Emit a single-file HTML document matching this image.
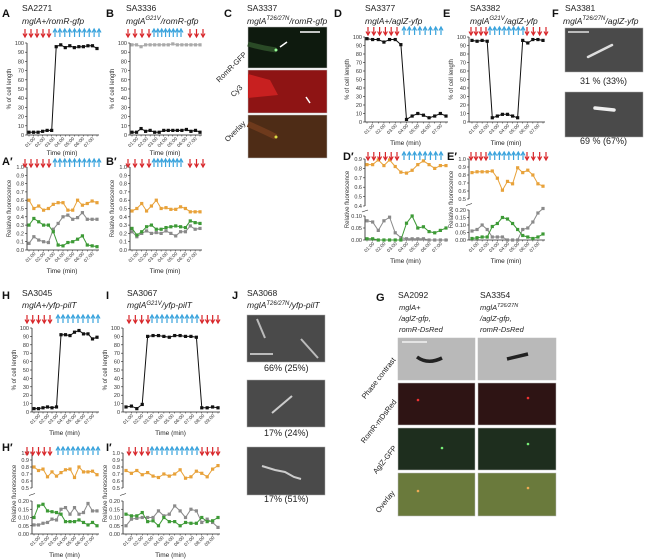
<!DOCTYPE html>
<html><head><meta charset="utf-8"><style>
html,body{margin:0;padding:0;background:#fff;}
svg{display:block;font-family:"Liberation Sans",sans-serif;}
</style></head><body>
<svg id="fig" width="648" height="560" viewBox="0 0 648 560" xmlns="http://www.w3.org/2000/svg">
<g id="static">
<g font-size="11" font-weight="bold" fill="#111">
<text x="2" y="17">A</text>
<text x="106" y="17">B</text>
<text x="224" y="17">C</text>
<text x="334" y="17">D</text>
<text x="443" y="17">E</text>
<text x="552" y="17">F</text>
<text x="2" y="165">A′</text>
<text x="106" y="165">B′</text>
<text x="343" y="160">D′</text>
<text x="447" y="160">E′</text>
<text x="2" y="299">H</text>
<text x="106" y="299">I</text>
<text x="232" y="299">J</text>
<text x="376" y="301">G</text>
<text x="2" y="451">H′</text>
<text x="106" y="451">I′</text>
</g>
<g font-size="8.5" fill="#222">
<text x="22" y="11">SA2271</text>
<text x="22" y="24" font-style="italic">mglA+/romR-gfp</text>
<text x="126" y="11">SA3336</text>
<text x="126" y="24" font-style="italic">mglA<tspan font-size="6" dy="-4">G21V</tspan><tspan dy="4">/romR-gfp</tspan></text>
<text x="247" y="11">SA3337</text>
<text x="247" y="24" font-style="italic">mglA<tspan font-size="6" dy="-4">T26/27N</tspan><tspan dy="4">/romR-gfp</tspan></text>
<text x="365" y="11">SA3377</text>
<text x="365" y="24" font-style="italic">mglA+/aglZ-yfp</text>
<text x="470" y="11">SA3382</text>
<text x="470" y="24" font-style="italic">mglA<tspan font-size="6" dy="-4">G21V</tspan><tspan dy="4">/aglZ-yfp</tspan></text>
<text x="565" y="11">SA3381</text>
<text x="563" y="24" font-style="italic">mglA<tspan font-size="6" dy="-4">T26/27N</tspan><tspan dy="4">/aglZ-yfp</tspan></text>
<text x="22" y="296">SA3045</text>
<text x="22" y="308" font-style="italic">mglA+/yfp-pilT</text>
<text x="127" y="296">SA3067</text>
<text x="127" y="308" font-style="italic">mglA<tspan font-size="6" dy="-3">G21V</tspan><tspan dy="3">/yfp-pilT</tspan></text>
<text x="247" y="296">SA3068</text>
<text x="247" y="308" font-style="italic">mglA<tspan font-size="6" dy="-3">T26/27N</tspan><tspan dy="3">/yfp-pilT</tspan></text>
<text x="398" y="298">SA2092</text>
<text x="480" y="298">SA3354</text>
</g>
<g font-size="7.5" font-style="italic" fill="#222">
<text x="399" y="310">mglA+</text>
<text x="399" y="321">/aglZ-gfp,</text>
<text x="399" y="332">romR-DsRed</text>
<text x="480" y="310">mglA<tspan font-size="5.5" dy="-3">T26/27N</tspan></text>
<text x="480" y="321">/aglZ-gfp,</text>
<text x="480" y="332">romR-DsRed</text>
</g>
<!-- C images -->
<rect x="248" y="27" width="79" height="41" fill="#0e1a0e" stroke="#bbb" stroke-width="0.5"/>
<path d="M248,44 Q262,48 276,50" stroke="#2a4a26" stroke-width="5" fill="none"/>
<circle cx="276" cy="50" r="1.5" fill="#9f9"/>
<path d="M280,47 l7,-5" stroke="#fff" stroke-width="1.5"/>
<rect x="248" y="70" width="79" height="43" fill="#8e1414" stroke="#bbb" stroke-width="0.5"/>
<path d="M248,74 L270,80 L278,95 L248,98 Z" fill="#c82020"/>
<path d="M310,103 l-4,-6" stroke="#fff" stroke-width="1.5"/>
<rect x="248" y="115" width="79" height="43" fill="#4e2c16" stroke="#bbb" stroke-width="0.5"/>
<path d="M248,124 Q262,130 276,137" stroke="#6e3a1c" stroke-width="6" fill="none"/>
<circle cx="276" cy="137" r="1.5" fill="#dd4"/>
<line x1="300" y1="32" x2="320" y2="32" stroke="#fff" stroke-width="1.5"/>
<g font-size="7.5" fill="#222" text-anchor="end">
<text transform="translate(247,55) rotate(-45)">RomR-GFP</text>
<text transform="translate(243,88) rotate(-45)">Cy3</text>
<text transform="translate(246,124) rotate(-45)">Overlay</text>
</g>
<!-- F images -->
<rect x="565" y="28" width="78" height="44" fill="#4a4a4a" stroke="#aaa" stroke-width="0.5"/>
<line x1="588" y1="57" x2="612" y2="45" stroke="#ddd" stroke-width="2.5" stroke-linecap="round"/>
<line x1="568" y1="32" x2="589" y2="32" stroke="#fff" stroke-width="1.2"/>
<rect x="565" y="92" width="78" height="45" fill="#4a4a4a" stroke="#aaa" stroke-width="0.5"/>
<line x1="595" y1="108" x2="614" y2="110" stroke="#eee" stroke-width="3.5" stroke-linecap="round"/>
<g font-size="9" fill="#222">
<text x="580" y="84">31 % (33%)</text>
<text x="580" y="144">69 % (67%)</text>
</g>
<!-- J images -->
<rect x="247" y="315" width="78" height="47" fill="#4a4a4a" stroke="#aaa" stroke-width="0.5"/>
<line x1="257" y1="319" x2="265" y2="338" stroke="#bbb" stroke-width="2"/>
<line x1="301" y1="339" x2="318" y2="358" stroke="#bbb" stroke-width="2"/>
<line x1="250" y1="354" x2="273" y2="354" stroke="#fff" stroke-width="1.2"/>
<rect x="247" y="380" width="78" height="47" fill="#4a4a4a" stroke="#aaa" stroke-width="0.5"/>
<line x1="272" y1="413" x2="292" y2="396" stroke="#ccc" stroke-width="2"/>
<rect x="247" y="447" width="78" height="48" fill="#4a4a4a" stroke="#aaa" stroke-width="0.5"/>
<polyline points="262,466 275,470 285,472 294,477 301,479" fill="none" stroke="#ccc" stroke-width="2"/>
<g font-size="9" fill="#222">
<text x="264" y="371">66% (25%)</text>
<text x="264" y="436">17% (24%)</text>
<text x="264" y="502">17% (51%)</text>
</g>
<!-- G images -->
<g stroke="#bbb" stroke-width="0.5">
<rect x="398" y="338" width="77" height="42" fill="#b9b9b9"/>
<rect x="478" y="338" width="78" height="42" fill="#b9b9b9"/>
<rect x="398" y="383" width="77" height="42" fill="#2e1414"/>
<rect x="478" y="383" width="78" height="42" fill="#2e1414"/>
<rect x="398" y="428" width="77" height="42" fill="#1e2e1e"/>
<rect x="478" y="428" width="78" height="42" fill="#1e2e1e"/>
<rect x="398" y="473" width="77" height="43" fill="#6a7a3c"/>
<rect x="478" y="473" width="78" height="43" fill="#6a7a3c"/>
</g>
<path d="M417,357 Q428,365 442,358" stroke="#222" stroke-width="3.5" fill="none"/>
<line x1="507" y1="359" x2="528" y2="354" stroke="#222" stroke-width="3.5"/>
<line x1="402" y1="342" x2="427" y2="342" stroke="#fff" stroke-width="1.2"/>
<circle cx="418" cy="400" r="1.3" fill="#e33"/>
<circle cx="528" cy="398" r="1.3" fill="#e33"/>
<circle cx="442" cy="448" r="1.3" fill="#7e7"/>
<circle cx="528" cy="444" r="1.3" fill="#7e7"/>
<circle cx="418" cy="491" r="1.3" fill="#ea5"/>
<circle cx="528" cy="488" r="1.3" fill="#ea5"/>
<g font-size="7.5" fill="#222" text-anchor="end">
<text transform="translate(396,360) rotate(-52)">Phase contrast</text>
<text transform="translate(397,402) rotate(-52)">RomR-mDsRed</text>
<text transform="translate(397,448) rotate(-52)">AglZ-GFP</text>
<text transform="translate(395,493) rotate(-52)">Overlay</text>
</g>
</g>
<g id="charts"></g>
</svg>
<script>
// ---- data ----
const ticks7 = ["01:00","02:00","03:00","04:00","05:00","06:00","07:00"];
const ticks9 = ["01:00","02:00","03:00","04:00","05:00","06:00","07:00","08:00","09:00"];
const pctTicks = [0,10,20,30,40,50,60,70,80,90,100];
const fluorTicks = [0,0.1,0.2,0.3,0.4,0.5,0.6,0.7,0.8,0.9,1.0];
const aBlack = [3,3,3,4,5,5,96,98,95,97,95,96,96,97,97,94];
const aOrange = [0.60,0.50,0.53,0.48,0.50,0.55,0.57,0.57,0.48,0.48,0.60,0.54,0.56,0.59,0.57];
const aGreen = [0.30,0.38,0.34,0.30,0.30,0.22,0.06,0.05,0.09,0.10,0.13,0.17,0.06,0.05,0.04];
const aGray = [0.08,0.16,0.12,0.10,0.09,0.25,0.32,0.40,0.42,0.37,0.39,0.45,0.37,0.37,0.37];
const bGray = [98,98,96,98,98,98,98,98,98,99,98,98,98,98,98,98];
const bBlack = [3,3,7,4,5,3,3,5,5,5,5,5,6,4,5,3];
const bOrange = [0.47,0.50,0.56,0.47,0.53,0.60,0.50,0.51,0.49,0.49,0.52,0.50,0.46,0.46,0.46];
const bGreen = [0.26,0.18,0.22,0.28,0.30,0.25,0.25,0.27,0.28,0.29,0.28,0.27,0.35,0.33,0.32];
const bGray2 = [0.22,0.16,0.20,0.23,0.20,0.21,0.20,0.23,0.20,0.17,0.22,0.22,0.29,0.25,0.26];
const dBlack = [98,97,97,94,97,97,91,3,7,10,8,5,7,10,7];
const dOrange = [0.84,0.84,0.89,0.83,0.89,0.82,0.76,0.75,0.78,0.84,0.88,0.84,0.80,0.83,0.83];
const dGray = [0.08,0.075,0.04,0.08,0.095,0.03,0.01,0.005,0.005,0.005,0.005,0,0,0,0];
const dGreen = [0.005,0.005,0,0,0,0,0,0.07,0.10,0.05,0.055,0.035,0.03,0.04,0.05];
const eBlack = [96,95,96,95,5,7,9,9,7,5,96,93,97,97,96];
const eOrange = [0.83,0.84,0.84,0.84,0.85,0.76,0.61,0.72,0.69,0.89,0.83,0.86,0.80,0.69,0.66];
const eGray = [0.06,0.07,0.10,0.07,0.02,0.02,0.02,0,0,0,0.07,0.08,0.12,0.18,0.21];
const eGreen = [0.01,0.015,0.02,0.02,0.09,0.11,0.15,0.14,0.11,0.07,0.03,0.02,0.01,0.02,0.04];
const hBlack = [4,4,5,6,5,6,92,92,91,95,97,93,93,87,89];
const hOrange = [0.80,0.75,0.77,0.66,0.73,0.67,0.72,0.76,0.77,0.65,0.80,0.73,0.73,0.74,0.69];
const hGreen = [0.10,0.17,0.18,0.14,0.135,0.13,0.12,0.075,0.075,0.075,0.085,0.07,0.055,0.07,0.05];
const hGray = [0.055,0.055,0.065,0.07,0.09,0.085,0.15,0.16,0.12,0.16,0.12,0.13,0.185,0.14,0.14];
const iBlack = [6,7,4,9,90,91,91,90,89,91,91,90,90,89,5,5,6,5];
const iOrange = [0.75,0.71,0.75,0.69,0.72,0.67,0.65,0.70,0.67,0.70,0.76,0.64,0.66,0.74,0.71,0.66,0.77,0.82];
const iGreen = [0.12,0.11,0.11,0.13,0.075,0.08,0.05,0.10,0.075,0.075,0.05,0.07,0.065,0.065,0.10,0.075,0.08,0.10];
const iGray = [0.05,0.09,0.095,0.10,0.10,0.10,0.14,0.11,0.12,0.17,0.14,0.10,0.15,0.14,0.07,0.09,0.07,0.04];
const upTicks5 = [0.5,0.6,0.7,0.8,0.9,1.0];
const loTicks20 = [0,0.05,0.10,0.15,0.20];
const upTicksD = [0.4,0.5,0.6,0.7,0.8,0.9];
const loTicksD = [0,0.05,0.10];

const NS="http://www.w3.org/2000/svg";
const root=document.getElementById('charts');
function mk(tag,attrs,parent){const e=document.createElementNS(NS,tag);for(const k in attrs)e.setAttribute(k,attrs[k]);(parent||root).appendChild(e);return e;}
const COL={black:"#111",orange:"#e8a23a",green:"#3d9a36",gray:"#8a8a8a",lgray:"#aaa"};

function arrows(id,y,groups){
  const g=mk('g',{});
  
  
  groups.forEach(([x0,x1,n,dir])=>{
    for(let i=0;i<n;i++){
      const x=n>1?x0+(x1-x0)*i/(n-1):x0;
      const c=dir<0?"#d8262a":"#3aa3dc";
      const p=mk('path',{d:dir<0?`M${x},${y} v7 M${x-2},${y+4.5} L${x},${y+8} L${x+2},${y+4.5}`:`M${x},${y+8} v-7 M${x-2},${y+3.5} L${x},${y} L${x+2},${y+3.5}`,stroke:c,"stroke-width":1.2,fill:"none"},g);
      
      
    }
  });
}

function chart(cfg){
  const g=mk('g',{});
  
  
  const segs=cfg.segs;
  const yMap=v=>{let s=segs[0];if(segs.length>1&&v>=cfg.split)s=segs[1];return s.p0+(v-s.v0)/(s.v1-s.v0)*(s.p1-s.p0);};
  const n=cfg.n;
  const xMap=i=>cfg.x0+(cfg.x1-cfg.x0)*i/(n-1);
  const bottom=segs[0].p0, top=segs[segs.length-1].p1;
  segs.forEach((s,k)=>{
    const a=mk('line',{x1:cfg.ax,x2:cfg.ax,y1:s.p0,y2:s.p1,stroke:"#222","stroke-width":0.8},g);
    
    
    s.ticks.forEach(t=>{
      const y=s.p0+(t-s.v0)/(s.v1-s.v0)*(s.p1-s.p0);
      mk('line',{x1:cfg.ax-2,x2:cfg.ax,y1:y,y2:y,stroke:"#222","stroke-width":0.6},g);
      const tx=mk('text',{x:cfg.ax-3,y:y+2,"font-size":5.5,"text-anchor":"end",fill:"#333"},g);
      tx.textContent=s.fmt(t);
      
      
    });
  });
  if(segs.length>1){
    const by=(segs[0].p1+segs[1].p0)/2;
    mk('path',{d:`M${cfg.ax-3},${by+1} l6,-2`,stroke:"#222","stroke-width":0.6},g);
  }
  const xa=mk('line',{x1:cfg.ax,x2:cfg.x1+2,y1:bottom,y2:bottom,stroke:"#222","stroke-width":0.8},g);
  
  
  for(let i=0;i<n;i++){mk('line',{x1:xMap(i),x2:xMap(i),y1:bottom,y2:bottom+1.5,stroke:"#222","stroke-width":0.5},g);}
  cfg.ticks.forEach((t,k)=>{
    const x=xMap(1+2*k*(n-2)/(2*cfg.ticks.length-1));
    const tx=mk('text',{transform:`translate(${x+2},${bottom+4}) rotate(-45)`,"font-size":4.8,"text-anchor":"end",fill:"#333"},g);
    tx.textContent=t;
    
    
  });
  const xt=mk('text',{x:(cfg.ax+cfg.x1)/2,y:bottom+(cfg.tgap||23),"font-size":6.5,"text-anchor":"middle",fill:"#222"},g);
  xt.textContent="Time (min)";
  
  
  const yt=mk('text',{transform:`translate(${cfg.ax-16},${(top+bottom)/2}) rotate(-90)`,"font-size":6,"text-anchor":"middle",fill:"#333"},g);
  yt.textContent=cfg.ytitle;
  
  
  cfg.series.forEach(([vals,col,name])=>{
    const pts=vals.map((v,i)=>xMap(i).toFixed(1)+","+yMap(v).toFixed(1)).join(" ");
    const pl=mk('polyline',{points:pts,fill:"none",stroke:col,"stroke-width":1},g);
    
    
    vals.forEach((v,i)=>{
      const r=mk('rect',{x:xMap(i)-1.6,y:yMap(v)-1.6,width:3.2,height:3.2,fill:col},g);
      
      
    });
  });
}
const fmtInt=v=>String(v);
const fmt1=v=>v.toFixed(1);
const fmt2=v=>v.toFixed(2);
const pctSeg=(b,t)=>[{v0:0,v1:100,p0:b,p1:t,ticks:pctTicks,fmt:fmtInt}];
const flSeg=(b,t)=>[{v0:0,v1:1,p0:b,p1:t,ticks:fluorTicks,fmt:fmt1}];
const Y1="% of cell length", Y2="Relative fluorescence";

chart({id:"a",ax:27,x0:29,x1:97,n:aBlack.length,tgap:20,segs:pctSeg(135,43),ticks:ticks7,ytitle:Y1,series:[[aBlack,COL.black,"black"]]});
chart({id:"a-prime",ax:27,x0:29,x1:97,n:aOrange.length,segs:flSeg(250,167),ticks:ticks7,ytitle:Y2,series:[[aOrange,COL.orange,"orange"],[aGray,COL.gray,"gray"],[aGreen,COL.green,"green"]]});
chart({id:"b",ax:130,x0:132,x1:200,n:bBlack.length,tgap:20,segs:pctSeg(135,43),ticks:ticks7,ytitle:Y1,series:[[bGray,COL.lgray,"gray"],[bBlack,COL.black,"black"]]});
chart({id:"b-prime",ax:130,x0:132,x1:200,n:bOrange.length,segs:flSeg(250,167),ticks:ticks7,ytitle:Y2,series:[[bOrange,COL.orange,"orange"],[bGray2,COL.gray,"gray"],[bGreen,COL.green,"green"]]});
chart({id:"d",ax:365,x0:367,x1:446,n:dBlack.length,segs:pctSeg(122,37),ticks:ticks7,ytitle:Y1,series:[[dBlack,COL.black,"black"]]});
chart({id:"d-prime",ax:365,x0:367,x1:446,n:dOrange.length,split:0.3,segs:[{v0:0,v1:0.10,p0:240,p1:216,ticks:loTicksD,fmt:fmt2},{v0:0.4,v1:0.9,p0:206,p1:159,ticks:upTicksD,fmt:fmt1}],ticks:ticks7,ytitle:Y2,series:[[dOrange,COL.orange,"orange"],[dGray,COL.gray,"gray"],[dGreen,COL.green,"green"]]});
chart({id:"e",ax:469,x0:472,x1:543,n:eBlack.length,segs:pctSeg(122,37),ticks:ticks7,ytitle:Y1,series:[[eBlack,COL.black,"black"]]});
chart({id:"e-prime",ax:469,x0:472,x1:543,n:eOrange.length,split:0.3,segs:[{v0:0,v1:0.20,p0:240,p1:210,ticks:loTicks20,fmt:fmt2},{v0:0.5,v1:1.0,p0:199,p1:159,ticks:upTicks5,fmt:fmt1}],ticks:ticks7,ytitle:Y2,series:[[eOrange,COL.orange,"orange"],[eGray,COL.gray,"gray"],[eGreen,COL.green,"green"]]});
chart({id:"h",ax:32,x0:34,x1:97,n:hBlack.length,segs:pctSeg(412,328),ticks:ticks7,ytitle:Y1,series:[[hBlack,COL.black,"black"]]});
chart({id:"h-prime",ax:32,x0:34,x1:97,n:hOrange.length,split:0.3,segs:[{v0:0,v1:0.20,p0:534,p1:501,ticks:loTicks20,fmt:fmt2},{v0:0.5,v1:1.0,p0:488,p1:453,ticks:upTicks5,fmt:fmt1}],ticks:ticks7,ytitle:Y2,series:[[hOrange,COL.orange,"orange"],[hGray,COL.gray,"gray"],[hGreen,COL.green,"green"]]});
chart({id:"i",ax:123,x0:126,x1:218,n:iBlack.length,segs:pctSeg(412,328),ticks:ticks9,ytitle:Y1,series:[[iBlack,COL.black,"black"]]});
chart({id:"i-prime",ax:123,x0:126,x1:218,n:iOrange.length,split:0.3,segs:[{v0:0,v1:0.20,p0:534,p1:501,ticks:loTicks20,fmt:fmt2},{v0:0.5,v1:1.0,p0:488,p1:453,ticks:upTicks5,fmt:fmt1}],ticks:ticks9,ytitle:Y2,series:[[iOrange,COL.orange,"orange"],[iGray,COL.gray,"gray"],[iGreen,COL.green,"green"]]});

arrows("a",29,[[25,49,5,-1],[55,99,10,1]]);
arrows("a-prime",159,[[25,49,5,-1],[55,99,10,1]]);
arrows("b",29,[[128,149,4,-1],[154,181,8,1],[190,203,3,-1]]);
arrows("b-prime",159,[[128,149,4,-1],[154,181,8,1],[190,203,3,-1]]);
arrows("d",27,[[368,397,6,-1],[404,441,8,1]]);
arrows("d-prime",152,[[368,397,6,-1],[404,441,8,1]]);
arrows("e",27,[[471,486,4,-1],[490,523,8,1],[527,546,4,-1]]);
arrows("e-prime",152,[[471,486,4,-1],[490,523,8,1],[527,546,4,-1]]);
arrows("h",315,[[27,50,5,-1],[58,98,9,1]]);
arrows("h-prime",447,[[27,50,5,-1],[58,98,9,1]]);
arrows("i",315,[[129,148,4,-1],[152,197,10,1],[202,218,4,-1]]);
arrows("i-prime",447,[[129,148,4,-1],[152,197,10,1],[202,218,4,-1]]);
</script>
</body></html>
